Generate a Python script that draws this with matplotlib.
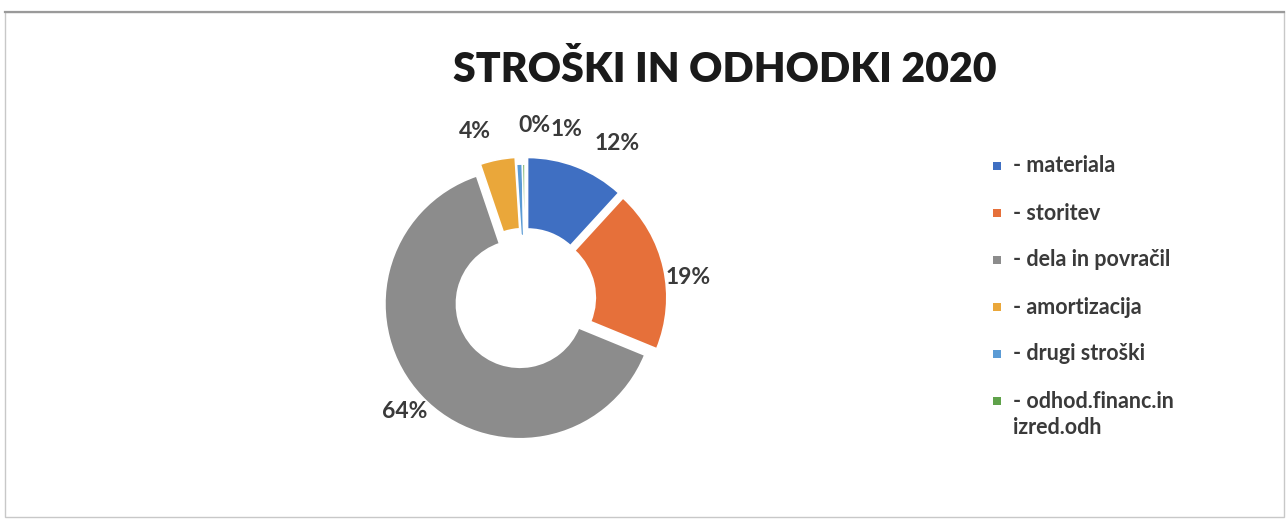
import matplotlib
matplotlib.use("Agg")
import matplotlib.pyplot as plt
from matplotlib.patches import Rectangle

# ---- data ----
categories = ["- materiala", "- storitev", "- dela in povračil", "- amortizacija",
              "- drugi stroški", "- odhod.financ.in\nizred.odh"]
values = [11.8, 19.4, 63.6, 4.2, 0.7, 0.3]
pct_labels = ["12%", "19%", "64%", "4%", "1%", "0%"]
title = "STROŠKI IN ODHODKI 2020"

colors = ["#3f6fc2", "#e6703a", "#8c8c8c", "#eaa73a", "#5b9bd5", "#5fa24a"]

W, H = 1288, 521
fig = plt.figure(figsize=(W / 100, H / 100), dpi=100)
fig.patch.set_facecolor("white")
ax = fig.add_axes([0, 0, 1, 1])
ax.set_xlim(0, W)
ax.set_ylim(0, H)
ax.set_aspect("equal")
ax.axis("off")

def Y(y):
    return H - y

# border
ax.add_patch(Rectangle((5, Y(517)), 1279, 505, fill=False, ec="#c8c8c8", lw=1.0))
ax.plot([5, 1284], [Y(12), Y(12)], color="#9a9a9a", lw=1.6)

cx, cy, R = 525, 299, 135
wedges, _ = ax.pie(values, colors=colors, startangle=90, counterclock=False,
                   radius=R, center=(cx, Y(cy)),
                   explode=[7, 7, 7, 7, 0, 0],
                   wedgeprops=dict(width=R * 0.53, linewidth=1.2, edgecolor="white"))
ax.set_xlim(0, W)
ax.set_ylim(0, H)

# percentage labels (pixel positions)
label_pos = [(617, 144), (688, 277), (405, 411), (475, 131), (567, 130), (534, 126)]
for txt, (lx, ly) in zip(pct_labels, label_pos):
    ax.text(lx, Y(ly), txt, ha="center", va="center", fontsize=16.5,
            family="Lato", weight="bold", color="#3a3a3a")

ax.text(725, Y(70), title, ha="center", va="center", fontsize=29.5,
        family="Lato", weight="heavy", color="#1a1a1a")

# legend (manual layout)
leg_x, leg_y0, leg_dy, box = 993, 166, 47, 8
for i, (lab, col) in enumerate(zip(categories, colors)):
    yy = leg_y0 + i * leg_dy
    ax.add_patch(Rectangle((leg_x, Y(yy) - box / 2), box, box, fc=col, ec="none"))
    lines = lab.split("\n")
    ax.text(leg_x + 20, Y(yy), lines[0], ha="left", va="center", fontsize=15.5,
            family="Lato", weight="bold", color="#3a3a3a")
    for k, extra in enumerate(lines[1:], start=1):
        ax.text(leg_x + 20, Y(yy + 26 * k), extra, ha="left", va="center",
                fontsize=15.5, family="Lato", weight="bold", color="#3a3a3a")

fig.savefig("out.png", dpi=100, facecolor="white")
